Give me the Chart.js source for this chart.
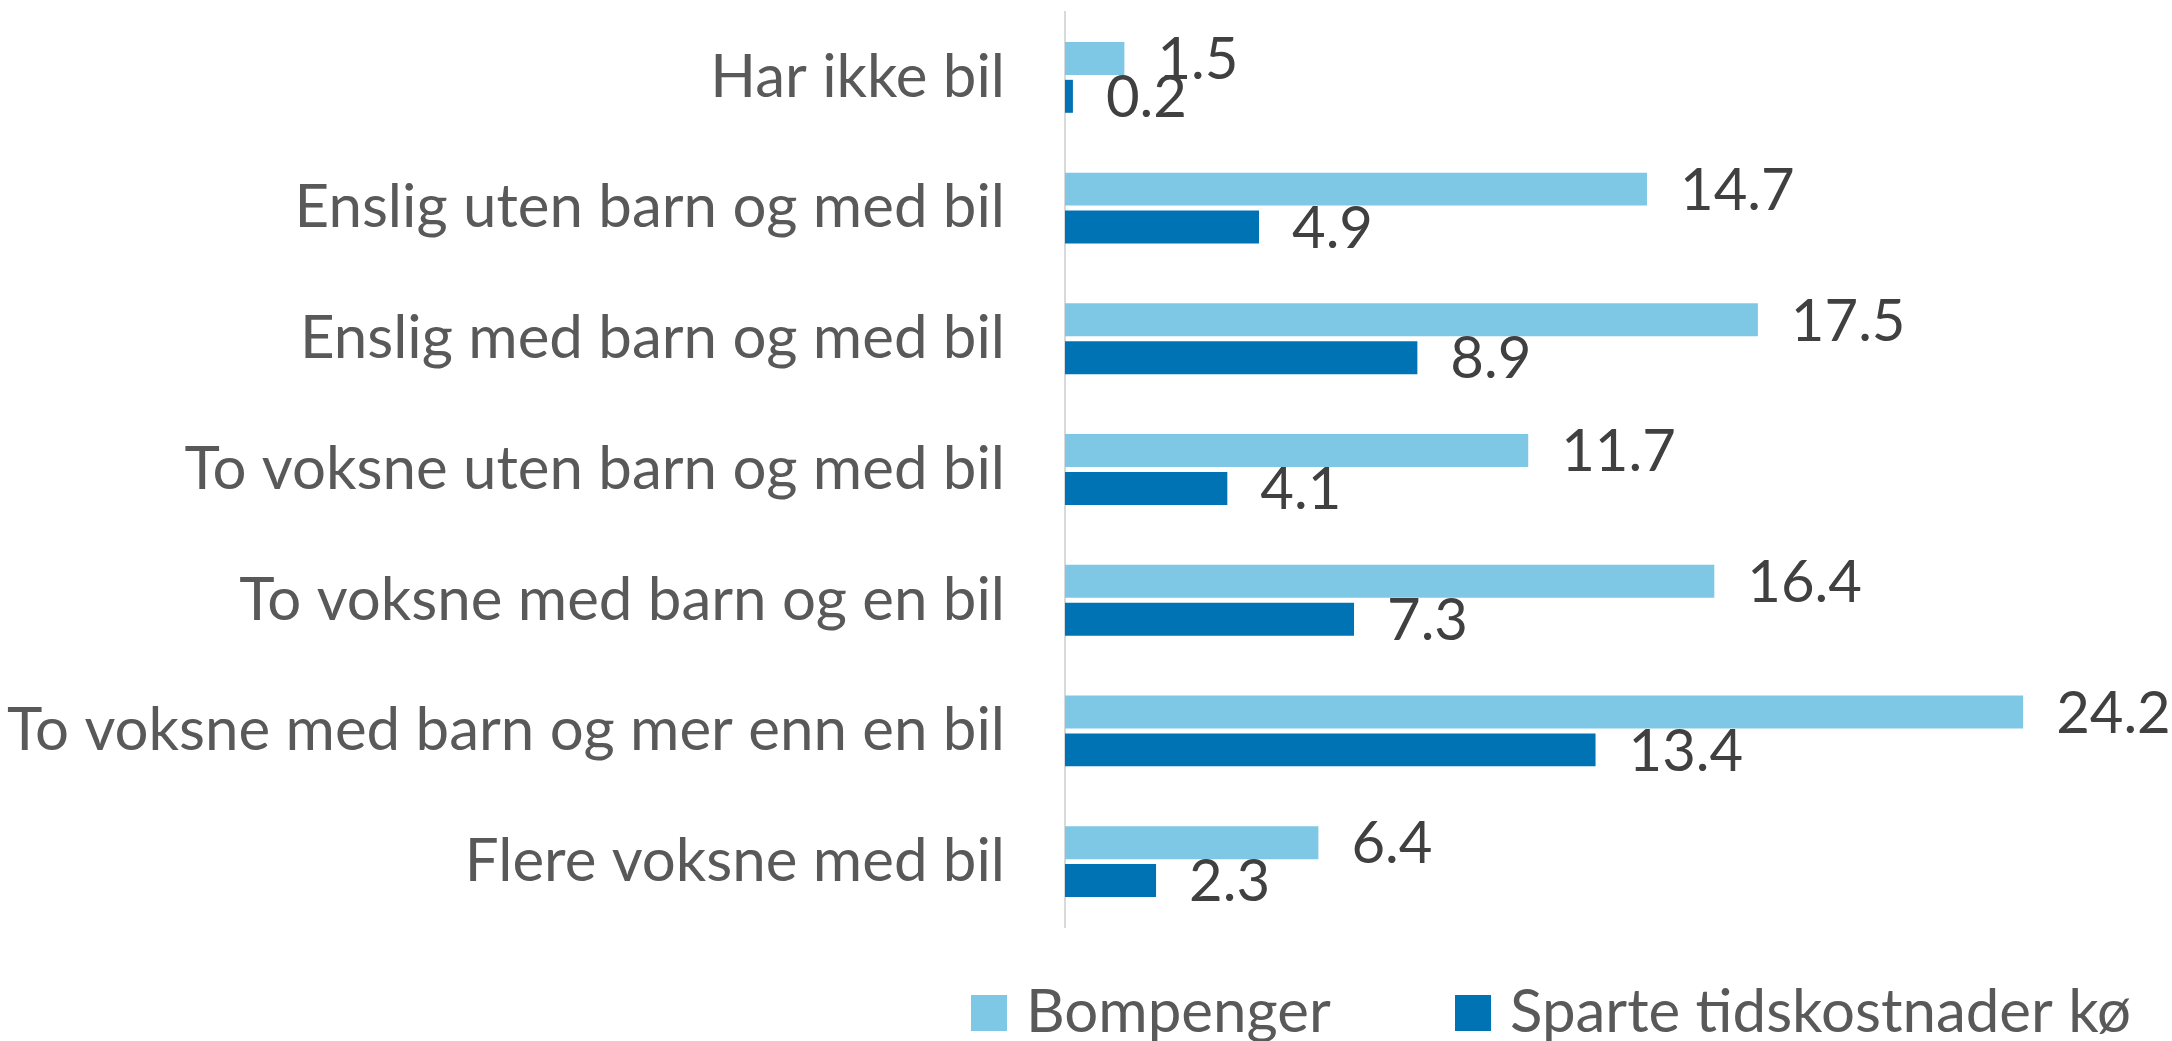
<!DOCTYPE html>
<html>
<head>
<meta charset="utf-8">
<title>Bompenger og sparte tidskostnader</title>
<script src="https://cdn.jsdelivr.net/npm/chart.js@4"></script>
<style>
  html, body { margin: 0; padding: 0; background: #fff; }
  #wrap { width: 2172px; height: 1041px; }
</style>
</head>
<body>
<div id="wrap"><canvas id="chart" width="2172" height="1041"></canvas></div>
<script>
const categories = [
    'Har ikke bil',
    'Enslig uten barn og med bil',
    'Enslig med barn og med bil',
    'To voksne uten barn og med bil',
    'To voksne med barn og en bil',
    'To voksne med barn og mer enn en bil',
    'Flere voksne med bil'
];
const bompenger = [1.5, 14.7, 17.5, 11.7, 16.4, 24.2, 6.4];
const sparteTid = [0.2, 4.9, 8.9, 4.1, 7.3, 13.4, 2.3];

const FONT = 'Lato, "Open Sans", sans-serif';

// value labels next to each bar
const valueLabels = {
    id: 'valueLabels',
    afterDatasetsDraw(chart) {
        const ctx = chart.ctx;
        ctx.save();
        ctx.font = '58px ' + FONT;
        ctx.fillStyle = '#404040';
        ctx.textAlign = 'left';
        ctx.textBaseline = 'middle';
        chart.data.datasets.forEach((ds, i) => {
            chart.getDatasetMeta(i).data.forEach((bar, j) => {
                ctx.fillText(ds.data[j].toFixed(1), bar.x + 33, bar.y + 2);
            });
        });
        ctx.restore();
    }
};

// legend along the bottom
const bottomLegend = {
    id: 'bottomLegend',
    afterDraw(chart) {
        const ctx = chart.ctx;
        const xs = [971, 1455];
        const y = 995;
        ctx.save();
        ctx.font = '60px ' + FONT;
        ctx.textBaseline = 'middle';
        ctx.textAlign = 'left';
        chart.data.datasets.forEach((ds, i) => {
            ctx.fillStyle = ds.backgroundColor;
            ctx.fillRect(xs[i], y, 36, 36);
            ctx.fillStyle = '#595959';
            ctx.fillText(ds.label, xs[i] + 55, y + 18);
        });
        ctx.restore();
    }
};

new Chart(document.getElementById('chart'), {
    type: 'bar',
    data: {
        labels: categories,
        datasets: [
            {
                label: 'Bompenger',
                data: bompenger,
                backgroundColor: '#7ec8e6',
                categoryPercentage: 0.58,
                barPercentage: 0.87
            },
            {
                label: 'Sparte tidskostnader kø',
                data: sparteTid,
                backgroundColor: '#0073b4',
                categoryPercentage: 0.58,
                barPercentage: 0.87
            }
        ]
    },
    options: {
        indexAxis: 'y',
        responsive: false,
        animation: false,
        layout: {
            padding: { left: 0, right: 38, top: 12, bottom: 114 }
        },
        plugins: {
            legend: { display: false },
            tooltip: { enabled: false }
        },
        scales: {
            x: {
                display: false,
                min: 0,
                max: 27
            },
            y: {
                afterFit(scale) {
                    scale.width = 1065;
                    scale.paddingTop = 0;
                    scale.paddingBottom = 0;
                },
                grid: { display: false, drawTicks: false },
                border: { display: true, color: '#d9d9d9', width: 2 },
                ticks: {
                    padding: 60,
                    color: '#595959',
                    font: { family: FONT, size: 60 }
                }
            }
        }
    },
    plugins: [valueLabels, bottomLegend]
});
</script>
</body>
</html>
